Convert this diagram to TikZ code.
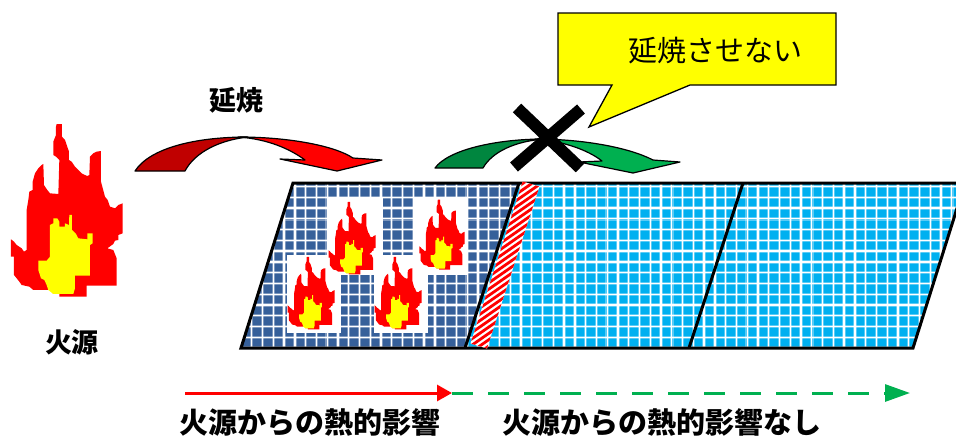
\documentclass[tikz,border=0pt]{standalone}
\usepackage{fontspec}
\newfontfamily\jp{Noto Sans CJK JP}
\usetikzlibrary{arrows.meta}
\definecolor{flamered}{HTML}{FF0000}
\definecolor{flameyellow}{HTML}{FFFF00}
\definecolor{burnt}{HTML}{36609A}
\definecolor{safe}{HTML}{00B0F0}
\definecolor{arrowdarkred}{HTML}{C00000}
\definecolor{arrowred}{HTML}{FF0000}
\definecolor{arrowdarkgreen}{HTML}{00863F}
\definecolor{arrowgreen}{HTML}{00B050}
\definecolor{calloutyellow}{HTML}{FFFF00}

% pixel-style flame, drawn in its own local coordinates (about 340 x 520)
\newcommand\flamefigure{%
    \fill[flamered] (170,42) -- (186,42) -- (186,80) -- (195,90) -- (207,125) -- (207,150)
      -- (215,155) -- (225,170) -- (235,180) -- (245,190) -- (255,195) -- (262,198) -- (268,195)
      -- (270,140) -- (280,130) -- (290,125) -- (303,123) -- (303,215) -- (315,260) -- (323,270)
      -- (330,290) -- (345,295) -- (355,285) -- (368,280) -- (368,370) -- (355,375) -- (355,390)
      -- (345,392) -- (340,402) -- (322,415) -- (340,420) -- (350,445) -- (350,527) -- (260,527)
      -- (260,560) -- (178,560) -- (178,550) -- (158,550) -- (158,540) -- (100,540) -- (88,530)
      -- (65,525) -- (58,515) -- (50,505) -- (42,495) -- (42,440) -- (33,440) -- (33,388)
      -- (42,395) -- (50,405) -- (65,415) -- (72,425) -- (80,420) -- (80,300) -- (85,270)
      -- (88,245) -- (98,240) -- (98,215) -- (105,190) -- (115,175) -- (125,165) -- (130,162)
      -- (132,225) -- (142,240) -- (150,250) -- (175,252) -- (178,150) -- (168,140) -- (160,135)
      -- (160,95) -- (168,75) -- (168,50) -- cycle;
    \fill[flameyellow] (160,325) -- (172,325) -- (178,335) -- (178,350) -- (195,350) -- (195,340)
      -- (207,345) -- (208,315) -- (216,315) -- (216,360) -- (228,372) -- (235,385) -- (262,388)
      -- (262,370) -- (278,370) -- (278,400) -- (270,405) -- (270,497) -- (225,497) -- (225,535)
      -- (220,552) -- (160,552) -- (145,540) -- (140,525) -- (133,510) -- (123,505) -- (115,480)
      -- (115,452) -- (140,452) -- (150,440) -- (150,345) -- (160,340) -- cycle;
}

\tikzset{
  label text/.style={inner sep=0pt, font=\jp\bfseries\fontsize{27}{27}\selectfont},
  bottom text/.style={inner sep=0pt, font=\jp\bfseries\fontsize{29}{29}\selectfont},
  callout text/.style={inner sep=0pt, font=\jp\fontsize{29}{29}\selectfont},
  glow/.style={white, line width=3.4pt, opacity=0.35},
  gridline/.style={white, line width=1.3pt},
  panel edge/.style={black, line width=3pt, line join=miter},
  arrow outline/.style={draw=black, line width=1.2pt, line join=round},
  cross/.style={black, line width=12pt},
  flame card/.style={fill=white},
}

\begin{document}
\begin{tikzpicture}[x=1pt,y=-1pt]
\useasboundingbox (0,0) rectangle (956,437);
\clip (0,0) rectangle (956,437);

% ---------- panel: burnt part and safe part with tiled grid ----------
\coordinate (ptl) at (293,183);
\coordinate (ptr) at (965,183);
\coordinate (pbr) at (913,348);
\coordinate (pbl) at (241,348);
\coordinate (d1t) at (519,183);
\coordinate (d1b) at (465,348);
\coordinate (d2t) at (743,183);
\coordinate (d2b) at (689,348);

\fill[burnt] (ptl) -- (d1t) -- (d1b) -- (pbl) -- cycle;
\fill[safe] (d1t) -- (ptr) -- (pbr) -- (d1b) -- cycle;
\begin{scope}
  \clip (ptl) -- (ptr) -- (pbr) -- (pbl) -- cycle;
  \foreach \i in {0,...,68} {
    \draw[glow] ({241+\i*10.77},180) -- ++(0,172);
    \draw[gridline] ({241+\i*10.77},180) -- ++(0,172);
  }
  \foreach \j in {0,...,15} {
    \draw[glow] (238,{186.5+\j*10.77}) -- (962,{186.5+\j*10.77});
    \draw[gridline] (238,{186.5+\j*10.77}) -- (962,{186.5+\j*10.77});
  }
\end{scope}

\draw[panel edge] (ptl) -- (ptr) -- (pbr) -- (pbl) -- cycle;
\draw[panel edge] (d1t) -- (d1b);
\draw[panel edge] (d2t) -- (d2b);

% ---------- striped fire barrier ----------
\coordinate (btl) at (522.7,181.5);
\coordinate (btr) at (539.5,186.5);
\coordinate (bbr) at (487,348.5);
\coordinate (bbl) at (470.5,343.5);
\begin{scope}
  \clip (btl) -- (btr) -- (bbr) -- (bbl) -- cycle;
  \fill[white] (460,175) rectangle (545,355);
  \foreach \k in {-6,...,26} {
    \draw[flamered, line width=2.8pt]
      ({531+\k*2.96-123},{184+\k*4.26+85.5}) -- ({531+\k*2.96+123},{184+\k*4.26-85.5});
  }
\end{scope}

% ---------- burning tiles ----------
\fill[flame card] (287,255) rectangle (341,333);
\begin{scope}[shift={(283,251)}, scale=0.14] \flamefigure \end{scope}
\fill[flame card] (374,255) rectangle (428,333);
\begin{scope}[shift={(370,251)}, scale=0.14] \flamefigure \end{scope}
\fill[flame card] (328,198) rectangle (383,275);
\begin{scope}[shift={(324,196)}, scale=0.14] \flamefigure \end{scope}
\fill[flame card] (413,197) rectangle (467,275);
\begin{scope}[shift={(415,194)}, scale=0.135] \flamefigure \end{scope}

% ---------- fire source ----------
\begin{scope}[shift={(0,110)}, scale=0.3333] \flamefigure \end{scope}
\node[label text] (source) at (72,342) {火源};

% ---------- spreading arrow (red) ----------
\path[arrow outline, fill=arrowdarkred] (135,171) .. controls (150,148) and (195,137) .. (248,137)
  .. controls (220,140) and (195,152) .. (185,171) -- cycle;
\path[arrow outline, fill=arrowred] (238,137) .. controls (290,137) and (335,146) .. (353,158)
  -- (382,160) -- (337,171) -- (280,159) -- (305,160)
  .. controls (290,149) and (268,139) .. (238,137) -- cycle;
\node[label text] (spread) at (236,100) {延焼};

% ---------- blocked arrow (green) ----------
\path[arrow outline, fill=arrowdarkgreen] (435,168) .. controls (448,150) and (495,139) .. (545,139)
  .. controls (515,141) and (492,152) .. (483,168) -- cycle;
\path[arrow outline, fill=arrowgreen] (535,139) .. controls (585,139) and (630,148) .. (653,160)
  -- (680,162) -- (633,173) -- (579,162) -- (602,161)
  .. controls (588,150) and (563,141) .. (535,139) -- cycle;
\draw[cross] (517,108) -- (580,168);
\draw[cross] (581,109) -- (514,167);

% ---------- callout ----------
\path[draw=black, line width=1.3pt, fill=calloutyellow, line join=miter]
  (558,13) -- (836,13) -- (836,85) -- (690,85) -- (589,127) -- (612,85) -- (558,85) -- cycle;
\node[callout text] (nospread) at (715,51) {延焼させない};

% ---------- range of thermal influence ----------
\coordinate (hotstart) at (185,393);
\coordinate (hotend) at (452,393);
\coordinate (coolend) at (910,393);
\draw[arrowgreen, line width=3pt, dash pattern=on 21pt off 15pt,
      -{Triangle[length=25pt,width=17pt]}] (hotend) -- (coolend);
\draw[arrowred, line width=3pt, -{Triangle[length=15pt,width=16pt]}] (hotstart) -- (hotend);
\node[bottom text] (hotlabel) at (310,422) {火源からの熱的影響};
\node[bottom text] (coollabel) at (662,422) {火源からの熱的影響なし};
\end{tikzpicture}
\end{document}
